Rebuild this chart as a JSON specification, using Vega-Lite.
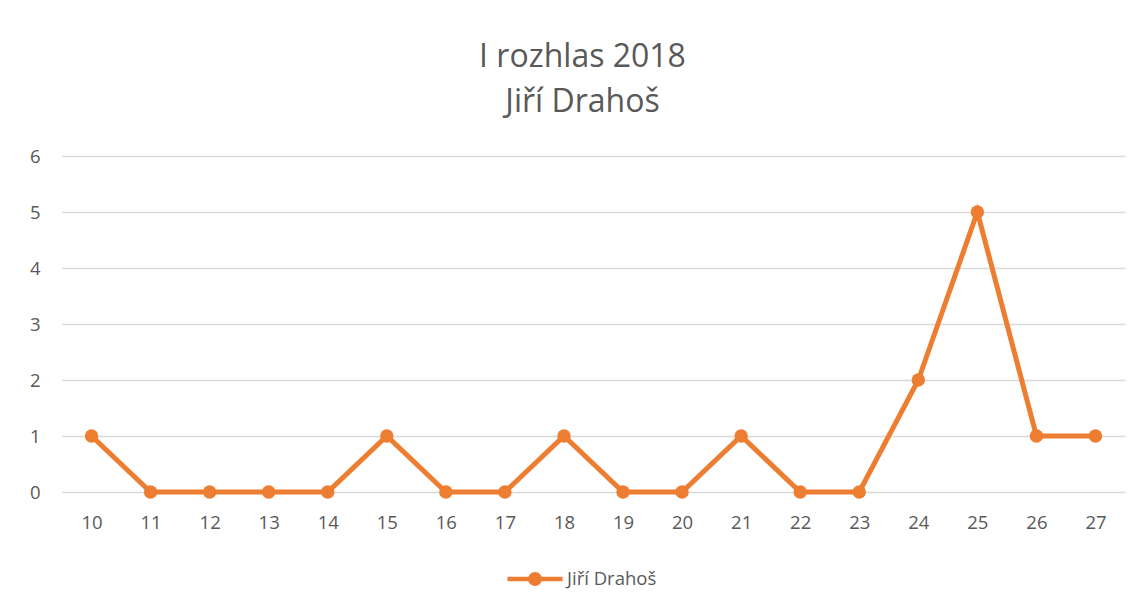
{
  "$schema": "https://vega.github.io/schema/vega-lite/v6.json",
  "autosize": "none",
  "width": 1063,
  "height": 336,
  "padding": {"left": 62, "top": 156, "right": 15, "bottom": 116},
  "background": "white",
  "title": {
    "text": ["I rozhlas 2018", "Jiří Drahoš"],
    "font": "Open Sans",
    "fontSize": 32,
    "fontWeight": "normal",
    "color": "#595959",
    "anchor": "middle",
    "dx": -11,
    "offset": 28,
    "lineHeight": 45
  },
  "data": {
    "values": [
      {"den": "10", "pocet": 1, "serie": "Jiří Drahoš"},
      {"den": "11", "pocet": 0, "serie": "Jiří Drahoš"},
      {"den": "12", "pocet": 0, "serie": "Jiří Drahoš"},
      {"den": "13", "pocet": 0, "serie": "Jiří Drahoš"},
      {"den": "14", "pocet": 0, "serie": "Jiří Drahoš"},
      {"den": "15", "pocet": 1, "serie": "Jiří Drahoš"},
      {"den": "16", "pocet": 0, "serie": "Jiří Drahoš"},
      {"den": "17", "pocet": 0, "serie": "Jiří Drahoš"},
      {"den": "18", "pocet": 1, "serie": "Jiří Drahoš"},
      {"den": "19", "pocet": 0, "serie": "Jiří Drahoš"},
      {"den": "20", "pocet": 0, "serie": "Jiří Drahoš"},
      {"den": "21", "pocet": 1, "serie": "Jiří Drahoš"},
      {"den": "22", "pocet": 0, "serie": "Jiří Drahoš"},
      {"den": "23", "pocet": 0, "serie": "Jiří Drahoš"},
      {"den": "24", "pocet": 2, "serie": "Jiří Drahoš"},
      {"den": "25", "pocet": 5, "serie": "Jiří Drahoš"},
      {"den": "26", "pocet": 1, "serie": "Jiří Drahoš"},
      {"den": "27", "pocet": 1, "serie": "Jiří Drahoš"}
    ]
  },
  "mark": {
    "type": "line",
    "strokeWidth": 5,
    "point": {"size": 180, "filled": true, "opacity": 1}
  },
  "encoding": {
    "x": {
      "field": "den",
      "type": "ordinal",
      "scale": {"type": "point", "padding": 0.5},
      "axis": {
        "title": null,
        "labelAngle": 0,
        "domain": false,
        "ticks": false,
        "labelPadding": 21,
        "labelFont": "Open Sans",
        "labelFontSize": 18.5,
        "labelColor": "#595959"
      }
    },
    "y": {
      "field": "pocet",
      "type": "quantitative",
      "scale": {"domain": [0, 6], "nice": false},
      "axis": {
        "title": null,
        "values": [0, 1, 2, 3, 4, 5, 6],
        "labelOverlap": false,
        "domain": false,
        "ticks": false,
        "labelPadding": 22,
        "labelFont": "Open Sans",
        "labelFontSize": 18.5,
        "labelColor": "#595959",
        "grid": true,
        "gridColor": "#D9D9D9",
        "gridWidth": 1.5
      }
    },
    "color": {
      "field": "serie",
      "type": "nominal",
      "scale": {"range": ["#ED7D31"]},
      "legend": {
        "title": null,
        "orient": "none",
        "legendX": 443,
        "legendY": 393,
        "symbolType": "M-1,0H1M-0.17,0A0.17,0.17 0 1,1 0.17,0A0.17,0.17 0 1,1 -0.17,0Z",
        "symbolSize": 3025,
        "symbolStrokeWidth": 4.5,
        "symbolFillColor": "#ED7D31",
        "symbolStrokeColor": "#ED7D31",
        "labelFont": "Open Sans",
        "labelFontSize": 18.5,
        "labelColor": "#595959",
        "labelOffset": 2
      }
    }
  },
  "config": {
    "view": {"stroke": null}
  }
}
